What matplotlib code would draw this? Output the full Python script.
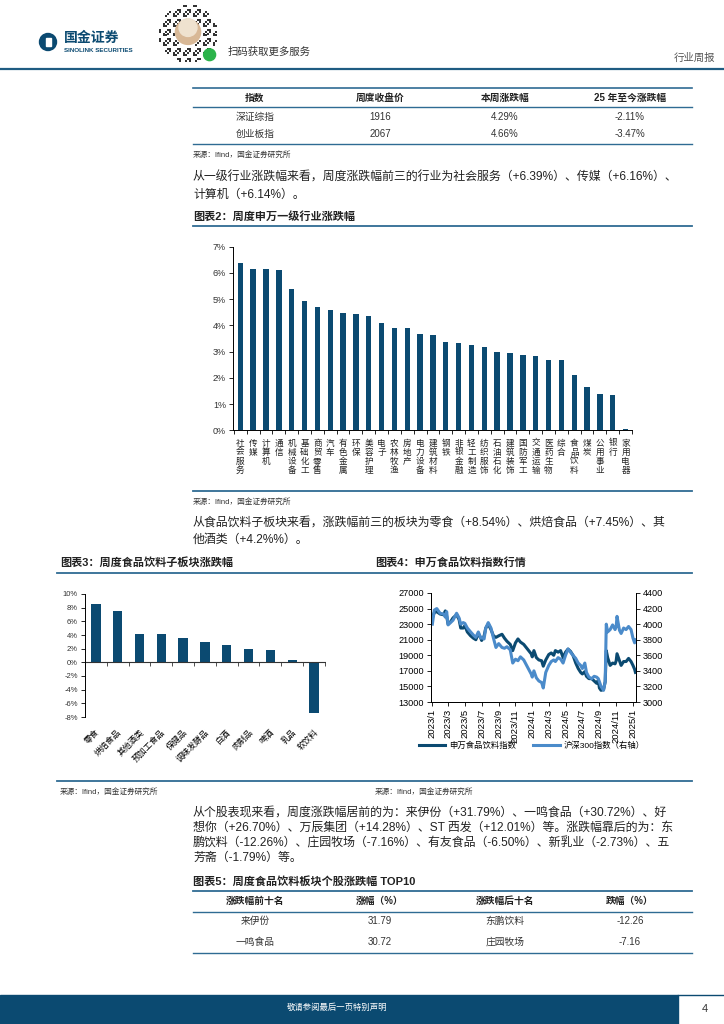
import matplotlib
matplotlib.use("Agg")
import matplotlib.pyplot as plt
import numpy as np
import pandas as pd
from matplotlib.lines import Line2D
from matplotlib.patches import Ellipse, Rectangle, Circle

plt.rcParams['font.family'] = ['Liberation Sans', 'Noto Sans CJK SC', 'DejaVu Sans']
plt.rcParams['axes.unicode_minus'] = False

W, H = 724, 1024
NAVY = "#0B4A71"
LIGHT = "#4B8BCA"
FRAME = "#2F6B93"
TXT = "#222222"

# ---- data -------------------------------------------------------------
idx_names = ["深证综指", "创业板指"]
idx_close = ["1916", "2067"]
idx_week = ["4.29%", "4.66%"]
idx_ytd = ["-2.11%", "-3.47%"]

ind_names = ["社会服务", "传媒", "计算机", "通信", "机械设备", "基础化工", "商贸零售", "汽车",
             "有色金属", "环保", "美容护理", "电子", "农林牧渔", "房地产", "电力设备", "建筑材料",
             "钢铁", "非银金融", "轻工制造", "纺织服饰", "石油石化", "建筑装饰", "国防军工",
             "交通运输", "医药生物", "综合", "食品饮料", "煤炭", "公用事业", "银行", "家用电器"]
ind_chg = [6.39, 6.16, 6.14, 6.13, 5.39, 4.93, 4.69, 4.59, 4.49, 4.42, 4.36, 4.09, 3.91, 3.91,
           3.67, 3.62, 3.35, 3.33, 3.27, 3.18, 3.00, 2.96, 2.88, 2.83, 2.68, 2.68, 2.12, 1.66,
           1.37, 1.33, 0.05]

sub_names = ["零食", "烘焙食品", "其他酒类", "预加工食品", "保健品", "调味发酵品", "白酒",
             "肉制品", "啤酒", "乳品", "软饮料"]
sub_chg = [8.54, 7.45, 4.2, 4.1, 3.5, 2.97, 2.53, 1.9, 1.8, 0.34, -7.35]

idx_dates = ["2023-01-03", "2023-01-10", "2023-01-19", "2023-01-31", "2023-02-13", "2023-02-19",
             "2023-02-24", "2023-03-01", "2023-03-10", "2023-03-19", "2023-04-01", "2023-04-10",
             "2023-04-16", "2023-04-25", "2023-05-01", "2023-05-10", "2023-05-22", "2023-06-01",
             "2023-06-10", "2023-06-19", "2023-06-28", "2023-07-01", "2023-07-10", "2023-07-16",
             "2023-07-25", "2023-08-04", "2023-08-13", "2023-08-22", "2023-09-01", "2023-09-13",
             "2023-09-22", "2023-10-01", "2023-10-13", "2023-10-22", "2023-11-01", "2023-11-10",
             "2023-11-19", "2023-12-01", "2023-12-10", "2023-12-19", "2023-12-28", "2024-01-01",
             "2024-01-07", "2024-01-16", "2024-01-25", "2024-02-04", "2024-02-10", "2024-02-19",
             "2024-03-01", "2024-03-10", "2024-03-19", "2024-03-25", "2024-04-04", "2024-04-13",
             "2024-04-22", "2024-05-01", "2024-05-10", "2024-05-19", "2024-05-28", "2024-06-07",
             "2024-06-16", "2024-06-25", "2024-07-01", "2024-07-10", "2024-07-16", "2024-07-25",
             "2024-08-04", "2024-08-13", "2024-08-22", "2024-08-28", "2024-09-01", "2024-09-07",
             "2024-09-16", "2024-09-22", "2024-09-26", "2024-10-01", "2024-10-10", "2024-10-19",
             "2024-10-28", "2024-11-01", "2024-11-04", "2024-11-13", "2024-11-19", "2024-11-28",
             "2024-12-07", "2024-12-16", "2024-12-25", "2025-01-01", "2025-01-07", "2025-01-10"]
food_idx = [23800, 24500, 24600, 24300, 24200, 24700, 24000, 23000, 23300, 23800, 24200, 23600,
            22500, 22500, 22800, 22000, 21500, 21200, 21000, 21800, 21200, 20900, 21500, 22500,
            23000, 22300, 21500, 21300, 21500, 21700, 21200, 20800, 20400, 19600, 20600, 21100,
            20700, 20400, 20000, 19600, 19200, 18800, 19600, 18700, 18400, 18300, 17600, 18400,
            19100, 19300, 19000, 19600, 19400, 19600, 18700, 19400, 19800, 19500, 19000, 18000,
            17300, 16800, 16600, 16900, 16300, 16000, 16000, 15700, 15400, 15800, 14800, 14500,
            14600, 15600, 19600, 18700, 17700, 18000, 17900, 18300, 19200, 18300, 17700, 18200,
            18200, 18600, 18200, 17700, 17200, 16800]
hs300 = [4000, 4180, 4200, 4140, 4130, 4090, 4160, 3990, 4020, 4050, 4140, 4080,
         4000, 4020, 4010, 3950, 3900, 3860, 3830, 3900, 3820, 3830, 3810, 3950,
         4020, 3950, 3820, 3700, 3750, 3700, 3690, 3710, 3670, 3500, 3550, 3530,
         3580, 3540, 3480, 3420, 3360, 3320, 3400, 3310, 3270, 3250, 3180, 3380,
         3470, 3520, 3540, 3520, 3570, 3550, 3500, 3600, 3680, 3640, 3600, 3560,
         3500, 3470, 3430, 3500, 3380, 3320, 3300, 3330, 3320, 3300, 3260, 3200,
         3150, 3260, 4000, 3900, 3930, 3990, 3930, 3970, 4100, 3920, 3880, 3950,
         3930, 3970, 3930, 3820, 3760, 3800]

top_names = ["来伊份", "一鸣食品"]
top_pct = ["31.79", "30.72"]
bot_names = ["东鹏饮料", "庄园牧场"]
bot_pct = ["-12.26", "-7.16"]


# ---- helpers (page is laid out in pixels) ------------------------------
fig = plt.figure(figsize=(W / 100, H / 100), dpi=100)


def fx(x):
    return x / W


def fy(y):
    return 1 - y / H


def txt(x, y, s, **kw):
    kw.setdefault("va", "center")
    kw.setdefault("color", TXT)
    return fig.text(fx(x), fy(y), s, **kw)


def hline(y, x0, x1, lw=1.0, color=FRAME):
    fig.add_artist(Line2D([fx(x0), fx(x1)], [fy(y), fy(y)], transform=fig.transFigure,
                          color=color, lw=lw))


def axes_px(x0, y0, x1, y1):
    return fig.add_axes([fx(x0), fy(y1), (x1 - x0) / W, (y1 - y0) / H])


# ---- header -----------------------------------------------------------
fig.add_artist(Ellipse((fx(48), fy(42)), 17 / W, 17 / H, transform=fig.transFigure,
                       color=NAVY))
fig.add_artist(Rectangle((fx(46), fy(46)), 5 / W, 8 / H, transform=fig.transFigure,
                         color="white"))
txt(64, 38, "国金证券", fontsize=10, fontweight="bold", color=NAVY)
txt(64, 50, "SINOLINK SECURITIES", fontsize=4.5, fontweight="bold", color=NAVY)

# round mini-program code (decorative)
qr = axes_px(158, 4, 218, 63)
qr.set_xlim(-1, 1)
qr.set_ylim(-1, 1)
qr.axis("off")
g = np.linspace(-1, 1, 31)
gx, gy = np.meshgrid(g, g)
ii, jj = np.meshgrid(np.arange(31), np.arange(31))
dots = ((ii * 7 + jj * 3 + ii * jj) % 5 < 2) & (gx ** 2 + gy ** 2 < 0.95) & (gx ** 2 + gy ** 2 > 0.2)
qr.scatter(gx[dots], gy[dots], s=1.2, color="#333333", marker="s", lw=0)
qr.add_patch(Circle((0, 0.05), 0.42, color="#d8b896"))
qr.add_patch(Circle((0, 0.2), 0.3, color="#efe2cf"))
qr.add_patch(Circle((0.72, -0.72), 0.2, color="#2bb34a"))
txt(228, 52, "扫码获取更多服务", fontsize=7.5, color="#333333")
txt(715, 58, "行业周报", fontsize=7.5, color="#555555", ha="right")
hline(69, 0, W, lw=1.6, color="#1F5C82")

# ---- table 1 -----------------------------------------------------------
col_c = [255, 380, 505, 630]
hline(88, 193, 692, lw=1.2)
for c, h in zip(col_c, ["指数", "周度收盘价", "本周涨跌幅", "25 年至今涨跌幅"]):
    txt(c, 98, h, fontsize=7, fontweight="bold", ha="center")
hline(107, 193, 692, lw=1.0)
for i in range(len(idx_names)):
    y = 117 + i * 17
    for c, v in zip(col_c, [idx_names[i], idx_close[i], idx_week[i], idx_ytd[i]]):
        txt(c, y, v, fontsize=7, ha="center", color="#333333")
hline(144, 193, 692, lw=1.0)
txt(193, 155, "来源：Ifind，国金证券研究所", fontsize=5.5, color="#333333")

txt(193, 178, "从一级行业涨跌幅来看，周度涨跌幅前三的行业为社会服务（+6.39%）、传媒（+6.16%）、",
    fontsize=8.6)
txt(193, 195, "计算机（+6.14%）。", fontsize=8.6)

# ---- chart 2 -----------------------------------------------------------
txt(193, 216, "图表2：周度申万一级行业涨跌幅", fontsize=8, fontweight="bold")
hline(226, 193, 692, lw=1.3)

ax2 = axes_px(233, 246.7, 632, 430.3)
n2 = len(ind_names)
ax2.bar(range(n2), ind_chg, width=0.42, color=NAVY)
ax2.set_xlim(-0.57, n2 - 1 + 0.47)
ax2.set_ylim(0, 7)
ax2.set_yticks(range(0, 8))
ax2.set_yticklabels([f"{v}%" for v in range(0, 8)], fontsize=6.5, color="#333333")
ax2.set_xticks(range(n2))
ax2.set_xticklabels(["\n".join(s) for s in ind_names], fontsize=6.2, linespacing=1.0,
                    color="#222222")
ax2.set_xticks([i + 0.5 for i in range(-1, n2)], minor=True)
ax2.tick_params(axis="x", which="major", length=0, pad=6)
ax2.tick_params(axis="x", which="minor", length=3, direction="out", width=0.6)
ax2.tick_params(axis="y", length=3, width=0.6, pad=2)
for s in ["top", "right"]:
    ax2.spines[s].set_visible(False)
for s in ["left", "bottom"]:
    ax2.spines[s].set_linewidth(0.7)

hline(491, 193, 692, lw=1.3)
txt(193, 502, "来源：Ifind，国金证券研究所", fontsize=5.5, color="#333333")
txt(193, 523, "从食品饮料子板块来看，涨跌幅前三的板块为零食（+8.54%）、烘焙食品（+7.45%）、其",
    fontsize=8.6)
txt(193, 540, "他酒类（+4.2%%）。", fontsize=8.6)

# ---- chart 3 -----------------------------------------------------------
txt(60, 562, "图表3：周度食品饮料子板块涨跌幅", fontsize=8, fontweight="bold")
txt(375, 562, "图表4：申万食品饮料指数行情", fontsize=8, fontweight="bold")
hline(572.5, 57, 692, lw=1.3)

ax3 = axes_px(85, 594, 326, 717)
n3 = len(sub_names)
ax3.bar(range(n3), sub_chg, width=0.43, color=NAVY)
ax3.set_xlim(-0.5, n3 - 1 + 0.55)
ax3.set_ylim(-8, 10)
ax3.set_yticks(range(-8, 11, 2))
ax3.set_yticklabels([f"{v}%" for v in range(-8, 11, 2)], fontsize=5.5, color="#333333")
ax3.axhline(0, color="#333333", lw=0.8)
ax3.plot([i + 0.5 for i in range(-1, n3)], [0] * (n3 + 1), ls="", marker=3, ms=3,
         color="#333333", mew=0.6)
ax3.set_xticks(range(n3))
ax3.set_xticklabels(sub_names, fontsize=6, rotation=45, ha="right", rotation_mode="anchor")
ax3.tick_params(axis="x", length=0, pad=8)
ax3.tick_params(axis="y", length=3, width=0.6, pad=2)
for s in ["top", "right", "bottom"]:
    ax3.spines[s].set_visible(False)
ax3.spines["left"].set_linewidth(0.7)

# ---- chart 4 -----------------------------------------------------------
dates = pd.to_datetime(idx_dates)
ax4 = axes_px(431, 593, 636, 702)
ax4r = ax4.twinx()
ax4.plot(dates, food_idx, color=NAVY, lw=2.2)
ax4r.plot(dates, hs300, color=LIGHT, lw=2.2)
ax4.set_xlim(pd.Timestamp("2022-12-29"), pd.Timestamp("2025-01-12"))
ax4.set_ylim(13000, 27000)
ax4.set_yticks(range(13000, 27001, 2000))
ax4r.set_ylim(3000, 4400)
ax4r.set_yticks(range(3000, 4401, 200))
ticks = pd.date_range("2023-01-01", "2025-01-01", freq="2MS")
ax4.set_xticks(ticks)
ax4.set_xticklabels([f"{d.year}/{d.month}" for d in ticks], rotation=90, fontsize=6.8)
ax4.tick_params(axis="x", length=3, width=0.6, pad=2)
ax4.tick_params(axis="y", labelsize=6.6, length=3, width=0.6, pad=2)
ax4r.tick_params(axis="y", labelsize=6.6, length=3, width=0.6, pad=2)
for a in (ax4, ax4r):
    a.spines["top"].set_visible(False)
    for s in ["left", "right", "bottom"]:
        a.spines[s].set_linewidth(0.7)

handles = [Line2D([], [], color=NAVY, lw=2.2), Line2D([], [], color=LIGHT, lw=2.2)]
fig.legend(handles, ["申万食品饮料指数", "沪深300指数（右轴）"], loc="center",
           bbox_to_anchor=(fx(532), fy(746)), ncol=2, frameon=False, fontsize=6,
           handlelength=3.2, columnspacing=2.0, handletextpad=0.5)

hline(781, 57, 692, lw=1.3)
txt(60, 792, "来源：Ifind，国金证券研究所", fontsize=5.5, color="#333333")
txt(375, 792, "来源：Ifind，国金证券研究所", fontsize=5.5, color="#333333")

# ---- paragraph 3 + table 5 -------------------------------------------
para3 = ["从个股表现来看，周度涨跌幅居前的为：来伊份（+31.79%）、一鸣食品（+30.72%）、好",
         "想你（+26.70%）、万辰集团（+14.28%）、ST 西发（+12.01%）等。涨跌幅靠后的为：东",
         "鹏饮料（-12.26%）、庄园牧场（-7.16%）、有友食品（-6.50%）、新乳业（-2.73%）、五",
         "芳斋（-1.79%）等。"]
for i, line in enumerate(para3):
    txt(193, 813 + i * 15, line, fontsize=8.6)

txt(193, 881, "图表5：周度食品饮料板块个股涨跌幅 TOP10", fontsize=8, fontweight="bold")
hline(891, 193, 692, lw=1.3)
for c, h in zip(col_c, ["涨跌幅前十名", "涨幅（%）", "涨跌幅后十名", "跌幅（%）"]):
    txt(c, 901, h, fontsize=7, fontweight="bold", ha="center")
hline(912, 193, 692, lw=1.0)
for i in range(len(top_names)):
    y = 921 + i * 21
    for c, v in zip(col_c, [top_names[i], top_pct[i], bot_names[i], bot_pct[i]]):
        txt(c, y, v, fontsize=7, ha="center", color="#333333")
hline(953, 193, 692, lw=1.0)

# ---- footer ------------------------------------------------------------
fig.add_artist(Rectangle((0, 0), fx(678), 29 / H, transform=fig.transFigure, color=NAVY))
hline(995, 678, W, lw=1.0, color=NAVY)
txt(287, 1008, "敬请参阅最后一页特别声明", fontsize=6, color="white")
txt(705, 1009, "4", fontsize=8, ha="center", color="#333333")

fig.savefig("out.png", dpi=100)
